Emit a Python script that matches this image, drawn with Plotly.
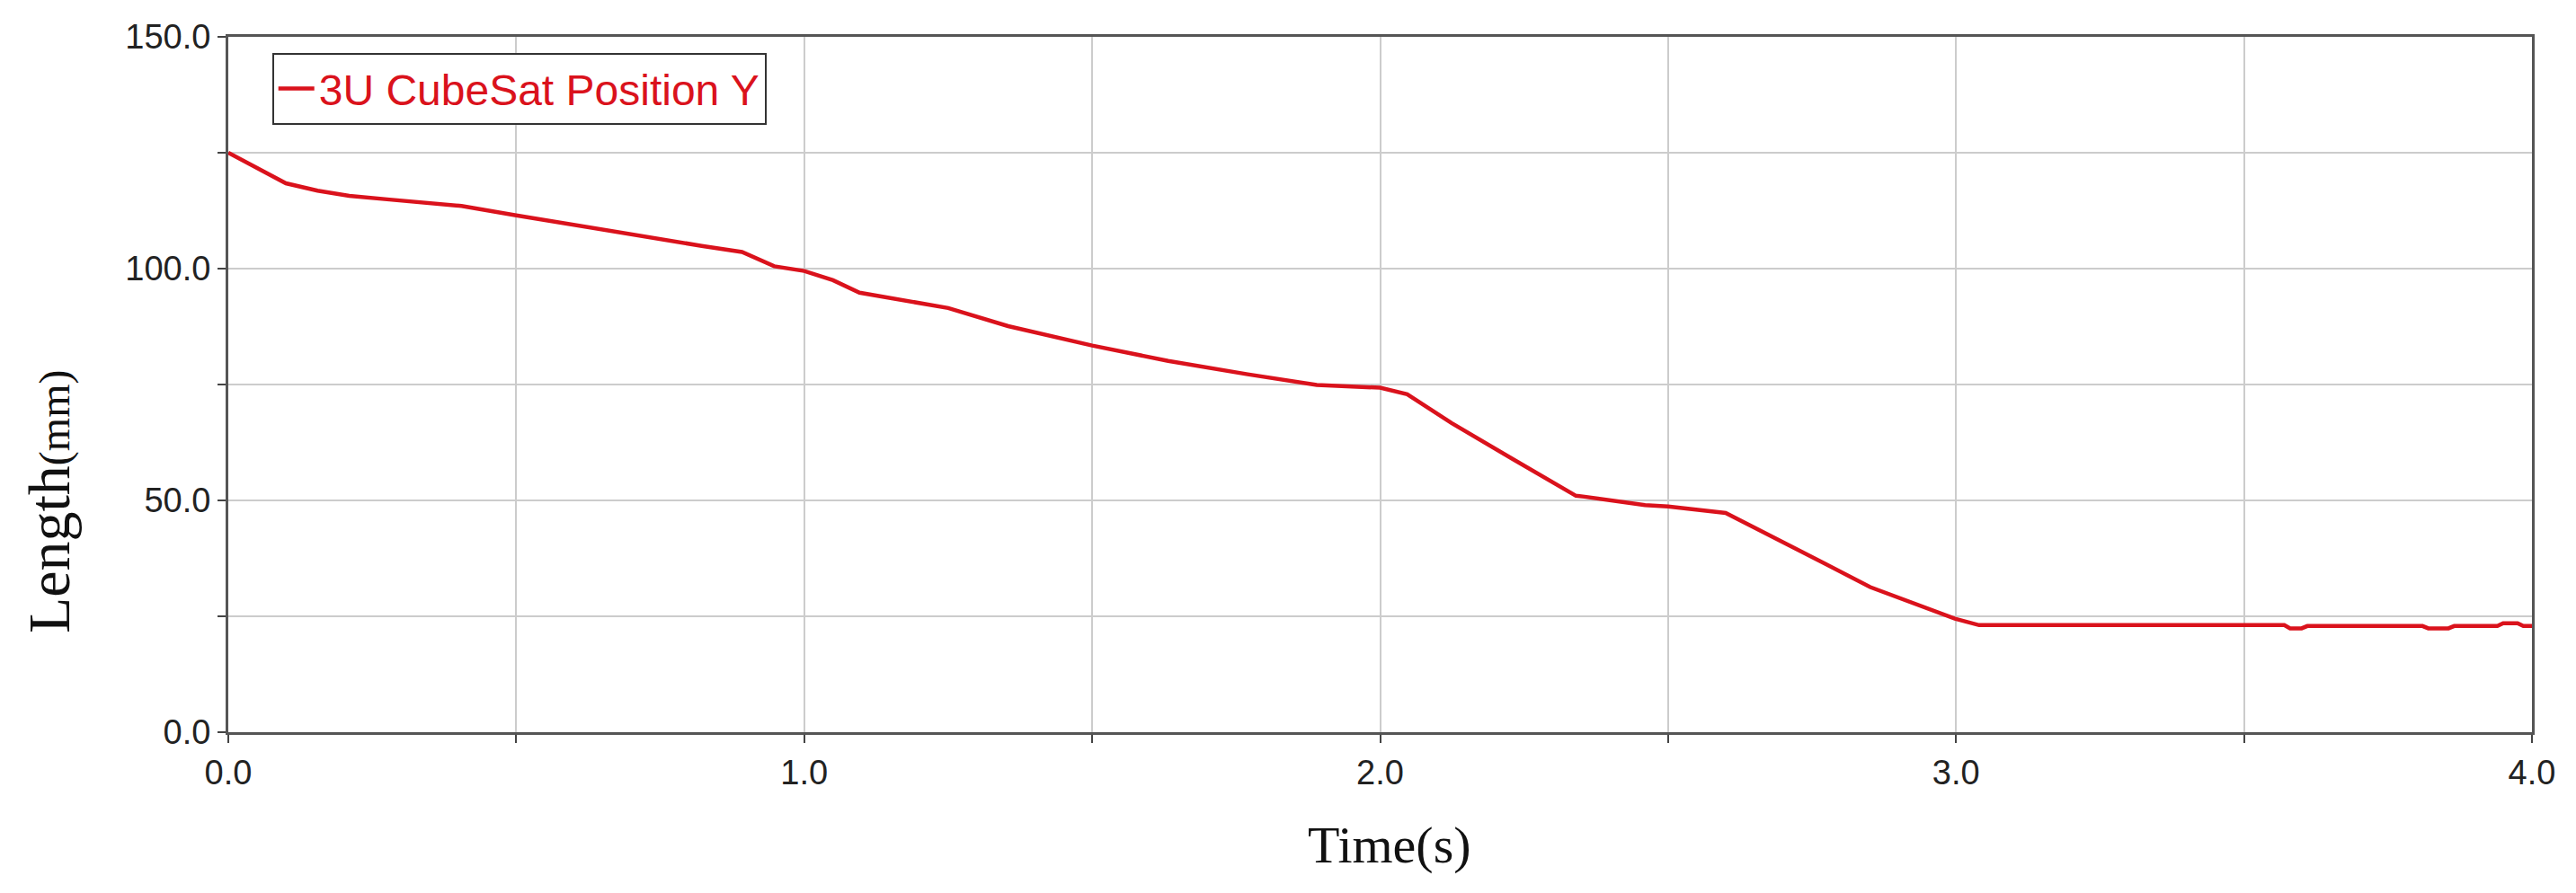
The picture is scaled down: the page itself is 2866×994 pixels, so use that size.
import plotly.graph_objects as go

# CubeSat Y position
time_s = [0.0, 0.05, 0.10, 0.155, 0.21, 0.28, 0.37, 0.405, 0.5, 0.614,
          0.72, 0.822, 0.892, 0.948, 1.0, 1.05, 1.096, 1.18, 1.25, 1.354,
          1.5, 1.632, 1.77, 1.89, 1.95, 2.0, 2.047, 2.124, 2.229, 2.34,
          2.355, 2.46, 2.5, 2.6, 2.72, 2.851, 2.998, 3.04, 3.57, 3.58,
          3.60, 3.61, 3.81, 3.82, 3.855, 3.865, 3.94, 3.95, 3.975, 3.985, 4.0]
pos_y = [125.0, 121.8, 118.4, 116.8, 115.7, 114.9, 113.8, 113.5, 111.5, 109.1,
         106.9, 104.9, 103.6, 100.5, 99.5, 97.5, 94.8, 93.1, 91.5, 87.6,
         83.4, 80.1, 77.2, 74.9, 74.5, 74.3, 72.9, 66.7, 59.0, 51.0,
         50.8, 49.0, 48.7, 47.3, 39.7, 31.3, 24.5, 23.1, 23.1, 22.4,
         22.4, 22.9, 22.9, 22.4, 22.4, 22.9, 22.9, 23.5, 23.5, 22.9, 22.9]

series_name = "3U CubeSat Position Y"
x_title = "Time(s)"
y_title = "Length<span style='font-size:48px'>(mm)</span>"

RED = "rgb(218,18,28)"
sans = "Liberation Sans, Arial, sans-serif"
serif = "Liberation Serif, Times New Roman, serif"

fig = go.Figure()
fig.add_trace(go.Scatter(x=time_s, y=pos_y, mode="lines", name=series_name,
                         line=dict(color=RED, width=4.5)))

axis_common = dict(
    showline=True, linecolor="#555555", linewidth=3, mirror=True,
    showgrid=True, gridcolor="#cccccc", gridwidth=2,
    ticks="outside", ticklen=9, tickwidth=2, tickcolor="#444444",
    tickformat=".1f", zeroline=False,
    tickfont=dict(family=sans, size=38, color="#222222"),
)

fig.update_xaxes(range=[0, 4], dtick=1, tick0=0,
                 minor=dict(dtick=0.5, showgrid=True, gridcolor="#cccccc",
                            gridwidth=2, ticks="outside", ticklen=9, tickcolor="#444444"),
                 **axis_common)
fig.update_yaxes(range=[0, 150], dtick=50, tick0=0,
                 minor=dict(dtick=25, showgrid=True, gridcolor="#cccccc",
                            gridwidth=2, ticks="outside", ticklen=9, tickcolor="#444444"),
                 **axis_common)

fig.add_annotation(text=y_title, xref="paper", yref="paper", x=-0.078, y=0.332,
                   textangle=-90, showarrow=False, xanchor="center", yanchor="middle",
                   font=dict(family=serif, size=66, color="#111111"))
fig.add_annotation(text=x_title, xref="paper", yref="paper", x=0.504, y=-0.162,
                   showarrow=False, xanchor="center", yanchor="middle",
                   font=dict(family=serif, size=58, color="#111111"))

# page body adds an 8px offset, so margins are shifted to keep the plot box in place
fig.update_layout(
    width=2866, height=994,
    margin=dict(l=246, r=57, t=29, b=187),
    paper_bgcolor="white", plot_bgcolor="white",
    showlegend=True,
    legend=dict(x=0.019, y=0.977, xanchor="left", yanchor="top",
                bordercolor="#333333", borderwidth=2, bgcolor="white",
                itemwidth=40,
                font=dict(family=sans, size=48, color=RED)),
)

fig.write_html("out.html")
